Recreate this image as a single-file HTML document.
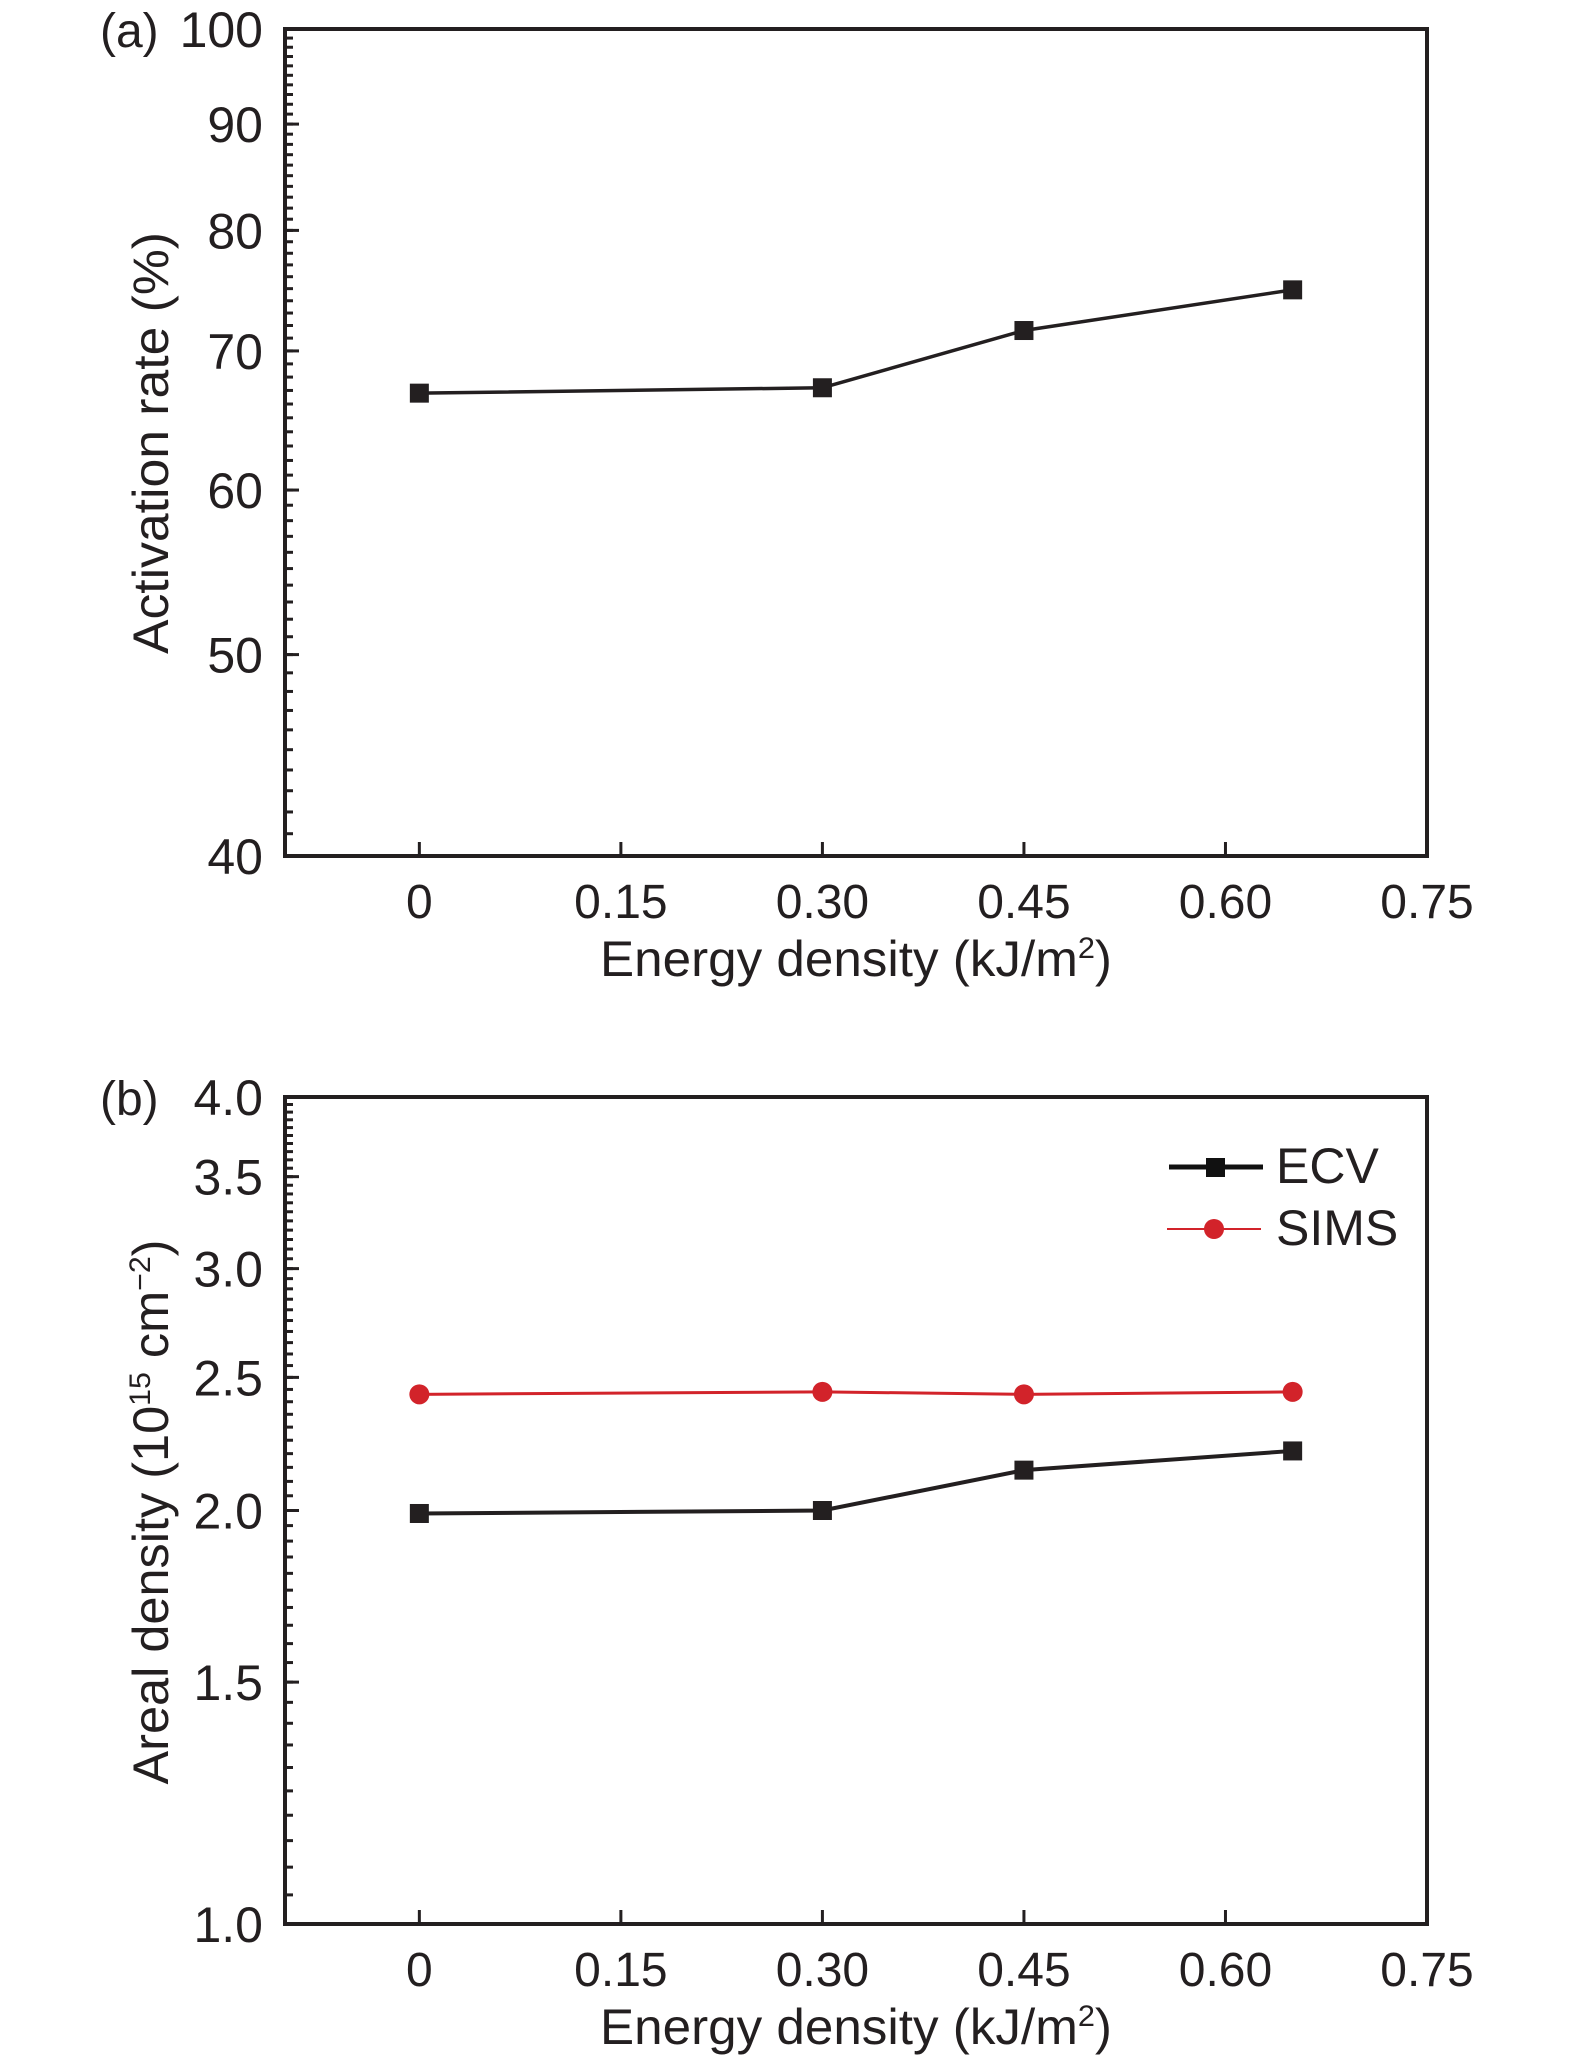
<!DOCTYPE html>
<html><head><meta charset="utf-8"><style>
html,body{margin:0;padding:0;background:#fff;}
svg{display:block;}
text{font-family:"Liberation Sans",sans-serif;fill:#231f20;}
</style></head><body>
<svg id="fig" width="1575" height="2057" viewBox="0 0 1575 2057" xmlns="http://www.w3.org/2000/svg"></svg>
<script>
// ---- data ----
const xTicks = [0, 0.15, 0.30, 0.45, 0.60, 0.75];
const xTickLabels = ["0", "0.15", "0.30", "0.45", "0.60", "0.75"];
const energyX = [0, 0.30, 0.45, 0.65];
const activationRate = [66.8, 67.2, 71.6, 74.9];
const aTicks = [40, 50, 60, 70, 80, 90, 100];
const aTickLabels = ["40", "50", "60", "70", "80", "90", "100"];
const ecvValues = [1.99, 2.00, 2.14, 2.21];
const simsValues = [2.43, 2.44, 2.43, 2.44];
const bTicks = [1.0, 1.5, 2.0, 2.5, 3.0, 3.5, 4.0];
const bTickLabels = ["1.0", "1.5", "2.0", "2.5", "3.0", "3.5", "4.0"];

const NS = "http://www.w3.org/2000/svg";
const svg = document.getElementById("fig");
function mk(tag, attrs, parent) {
  const e = document.createElementNS(NS, tag);
  for (const k in attrs) e.setAttribute(k, attrs[k]);
  (parent || svg).appendChild(e);
  return e;
}
const L = 285, R = 1427, XMIN = -0.1, XMAX = 0.75;
function xs(v) { return L + (v - XMIN) / (XMAX - XMIN) * (R - L); }

function panel(name, top, bottom, ymin, ymax, ticks, labels, minorStep, title, letter) {
  const g = mk("g", {});
  
  
  const ys = v => bottom - (Math.log10(v) - Math.log10(ymin)) / (Math.log10(ymax) - Math.log10(ymin)) * (bottom - top);
  const frame = mk("rect", {x: L, y: top, width: R - L, height: bottom - top, fill: "none", stroke: "#231f20", "stroke-width": 4}, g);
  
  
  const nMin = Math.round((ymax - ymin) / minorStep);
  for (let i = 1; i < nMin; i++) {
    const v = ymin + i * minorStep;
    const y = ys(v);
    const t = mk("line", {x1: L, x2: L + 8, y1: y, y2: y, stroke: "#231f20", "stroke-width": 3}, g);
    
    
  }
  ticks.forEach((v, i) => {
    const y = ys(v);
    const t = mk("line", {x1: L, x2: L + 14, y1: y, y2: y, stroke: "#231f20", "stroke-width": 3}, g);
    
    
    const tx = mk("text", {x: 263, y: y + 18, "text-anchor": "end", "font-size": 50}, g);
    tx.textContent = labels[i];
    
    
  });
  xTicks.forEach((v, i) => {
    const x = xs(v);
    if (i < xTicks.length - 1) {
      const t = mk("line", {x1: x, x2: x, y1: bottom, y2: bottom - 14, stroke: "#231f20", "stroke-width": 3}, g);
      
      
    }
    const tx = mk("text", {x: x, y: bottom + 62, "text-anchor": "middle", "font-size": 48}, g);
    tx.textContent = xTickLabels[i];
    
    
  });
  const xt = mk("text", {x: 856, y: bottom + 120, "text-anchor": "middle", "font-size": 50, textLength: 512, lengthAdjust: "spacingAndGlyphs"}, g);
  xt.innerHTML = 'Energy density (kJ/m<tspan dy="-18" font-size="30">2</tspan><tspan dy="18">)</tspan>';
  
  
  const yt = mk("text", {x: 0, y: 0, "text-anchor": "middle", "font-size": 50, transform: `translate(168 ${title.cy}) rotate(-90)`, textLength: title.len, lengthAdjust: "spacingAndGlyphs"}, g);
  yt.innerHTML = title.html;
  
  
  const lt = mk("text", {x: 100, y: top + 18, "font-size": 48}, g);
  lt.textContent = letter;
  
  
  return {g, ys};
}

function series(g, ys, vals, color, width, marker, name) {
  const sg = mk("g", {}, g);
  
  
  const pts = energyX.map((x, i) => xs(x) + "," + ys(vals[i])).join(" ");
  const pl = mk("polyline", {points: pts, fill: "none", stroke: color, "stroke-width": width}, sg);
  
  
  energyX.forEach((x, i) => {
    let m;
    if (marker === "square") m = mk("rect", {x: xs(x) - 9.5, y: ys(vals[i]) - 9.5, width: 19, height: 19, fill: color}, sg);
    else m = mk("circle", {cx: xs(x), cy: ys(vals[i]), r: 10, fill: color}, sg);
    
    
  });
}

const pa = panel("panel-a", 29, 856, 40, 100, aTicks, aTickLabels, 1,
  {cy: 443, len: 422, html: 'Activation rate (%)'}, "(a)");
series(pa.g, pa.ys, activationRate, "#231f20", 3.5, "square", "activation-series");

const pb = panel("panel-b", 1097, 1924, 1.0, 4.0, bTicks, bTickLabels, 0.05,
  {cy: 1512, len: 545, html: 'Areal density (10<tspan dy="-18" font-size="30">15</tspan><tspan dy="18"> cm</tspan><tspan dy="-18" font-size="30">−2</tspan><tspan dy="18">)</tspan>'}, "(b)");
series(pb.g, pb.ys, simsValues, "#d2232a", 3, "circle", "sims-series");
series(pb.g, pb.ys, ecvValues, "#231f20", 4, "square", "ecv-series");

const lg = mk("g", {});


const e1 = mk("g", {}, lg);


mk("line", {x1: 1169, x2: 1263, y1: 1167, y2: 1167, stroke: "#111", "stroke-width": 5}, e1);
mk("rect", {x: 1206, y: 1158, width: 19, height: 19, fill: "#111"}, e1);
const t1 = mk("text", {x: 1276, y: 1183, "font-size": 50}, e1);
t1.textContent = "ECV";
const e2 = mk("g", {}, lg);


mk("line", {x1: 1167, x2: 1261, y1: 1229, y2: 1229, stroke: "#d2232a", "stroke-width": 2}, e2);
mk("circle", {cx: 1214, cy: 1229, r: 10, fill: "#d2232a"}, e2);
const t2 = mk("text", {x: 1276, y: 1245, "font-size": 50}, e2);
t2.textContent = "SIMS";
</script>
</body></html>
